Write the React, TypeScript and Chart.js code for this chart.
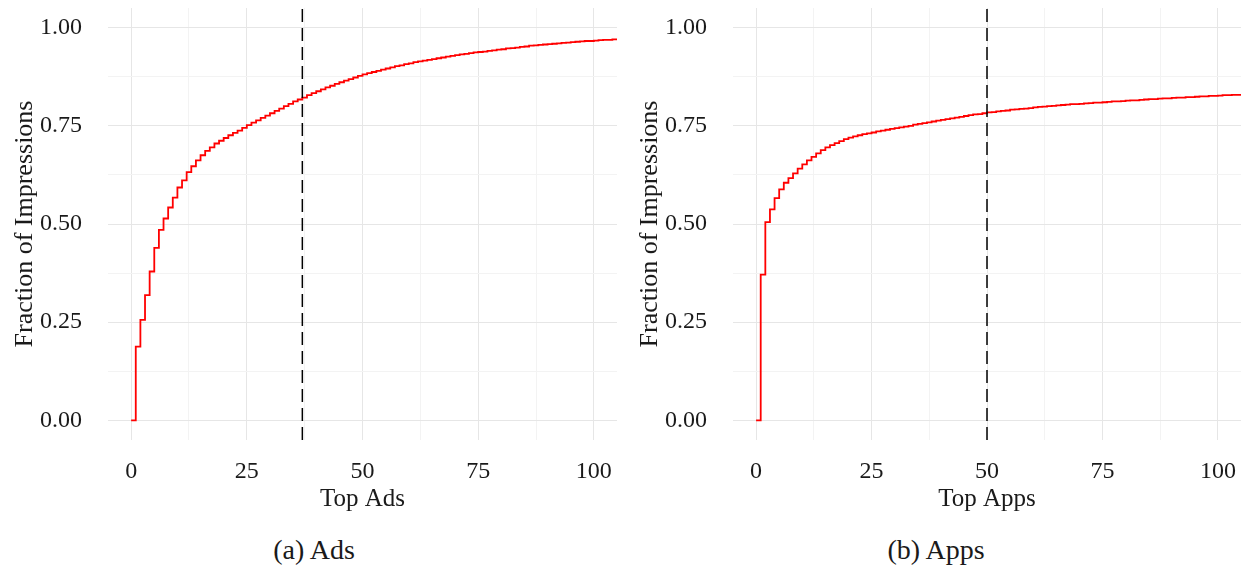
import React, { useEffect, useRef } from "react";
import { Chart, registerables } from "chart.js";

Chart.register(...registerables);

// Cumulative share of impressions held by the top-N ads (N = 0, 1, 2, ...)
const ADS_SHARE: number[] = [
  0, 0.188, 0.256, 0.319, 0.379, 0.439, 0.485, 0.514, 0.542, 0.567,
  0.593, 0.611, 0.632, 0.647, 0.662, 0.675, 0.686, 0.695, 0.705, 0.712,
  0.719, 0.726, 0.732, 0.738, 0.745, 0.752, 0.758, 0.764, 0.770, 0.776,
  0.782, 0.788, 0.794, 0.800, 0.806, 0.812, 0.817, 0.822, 0.828, 0.833,
  0.838, 0.843, 0.848, 0.852, 0.857, 0.861, 0.865, 0.869, 0.873, 0.877,
  0.881, 0.884, 0.887, 0.890, 0.893, 0.896, 0.899, 0.902, 0.904, 0.907,
  0.909, 0.912, 0.914, 0.916, 0.918, 0.920, 0.922, 0.924, 0.926, 0.928,
  0.930, 0.932, 0.933, 0.935, 0.937, 0.938, 0.939, 0.941, 0.942, 0.944,
  0.945, 0.947, 0.948, 0.949, 0.951, 0.952, 0.954, 0.955, 0.956, 0.957,
  0.958, 0.959, 0.960, 0.961, 0.962, 0.963, 0.964, 0.965, 0.966, 0.966,
  0.967, 0.968, 0.969, 0.969, 0.970, 0.971, 0.971,
];

// Cumulative share of impressions held by the top-N apps
const APPS_SHARE: number[] = [
  0, 0.371, 0.505, 0.537, 0.566, 0.588, 0.605, 0.617, 0.629, 0.641,
  0.652, 0.662, 0.671, 0.680, 0.688, 0.695, 0.701, 0.706, 0.711, 0.716,
  0.720, 0.723, 0.726, 0.729, 0.731, 0.733, 0.736, 0.738, 0.740, 0.742,
  0.744, 0.746, 0.748, 0.750, 0.753, 0.755, 0.757, 0.759, 0.761, 0.763,
  0.765, 0.767, 0.769, 0.771, 0.773, 0.775, 0.777, 0.779, 0.780, 0.782,
  0.784, 0.785, 0.787, 0.788, 0.789, 0.791, 0.792, 0.793, 0.794, 0.795,
  0.797, 0.798, 0.799, 0.800, 0.801, 0.802, 0.803, 0.804, 0.805, 0.805,
  0.806, 0.807, 0.808, 0.809, 0.809, 0.810, 0.811, 0.812, 0.812, 0.813,
  0.814, 0.815, 0.815, 0.816, 0.817, 0.818, 0.818, 0.819, 0.820, 0.820,
  0.821, 0.822, 0.822, 0.823, 0.823, 0.824, 0.825, 0.825, 0.826, 0.826,
  0.827, 0.828, 0.828, 0.829, 0.829, 0.830, 0.830,
];

// Rank cut-off marked by the dashed reference line in each panel
const ADS_CUTOFF = 37;
const APPS_CUTOFF = 50;

const X_LABELS = ["0", "25", "50", "75", "100"];
const Y_LABELS = ["0.00", "0.25", "0.50", "0.75", "1.00"];

const FONT = "'Liberation Serif', 'DejaVu Serif', serif";
const TEXT = "#1a1a1a";

// Drop the extra room Chart.js reserves for edge tick labels so the plot
// area is set only by the axis sizes and layout padding.
function noEdgePadding(s: any) {
  s.paddingTop = 0;
  s.paddingBottom = 0;
  s.paddingLeft = 0;
  s.paddingRight = 0;
}

type PanelProps = {
  share: number[];
  cutoff: number;
  xTitle: string;
  caption: string;
  left: number;
  captionX: number;
  padRight: number;
};

function Panel({ share, cutoff, xTitle, caption, left, captionX, padRight }: PanelProps) {
  const ref = useRef<HTMLCanvasElement | null>(null);

  useEffect(() => {
    if (!ref.current) return;
    const points = share.map((y, rank) => ({ x: rank, y }));
    const gridColor = (major: number) => (ctx: any) => {
      const v = ctx.tick ? ctx.tick.value : 0;
      return Math.abs(v / major - Math.round(v / major)) < 1e-6 ? "#e6e6e6" : "#f3f3f3";
    };
    const chart = new Chart(ref.current, {
      type: "line",
      data: {
        datasets: [
          {
            data: [
              { x: cutoff, y: -0.05 },
              { x: cutoff, y: 1.05 },
            ],
            borderColor: "#000000",
            borderWidth: 1.5,
            borderDash: [13, 6],
            pointRadius: 0,
          },
          {
            data: points,
            borderColor: "#ff0000",
            borderWidth: 1.8,
            stepped: true,
            pointRadius: 0,
          },
        ],
      },
      options: {
        responsive: false,
        animation: false,
        devicePixelRatio: 1,
        layout: { padding: { left: 0, right: padRight, top: 8, bottom: 0 } },
        plugins: { legend: { display: false }, tooltip: { enabled: false } },
        scales: {
          x: {
            type: "linear",
            min: -5,
            max: 105,
            border: { display: false },
            grid: { color: gridColor(25), lineWidth: 1, drawTicks: false },
            ticks: {
              stepSize: 12.5,
              includeBounds: false,
              autoSkip: false,
              maxRotation: 0,
              padding: 20,
              color: TEXT,
              font: { family: FONT, size: 24, lineHeight: 1 },
              callback: (v: any) => {
                const n = Number(v);
                return n % 25 === 0 ? X_LABELS[n / 25] : "";
              },
            },
            title: {
              display: true,
              text: xTitle,
              color: TEXT,
              font: { family: FONT, size: 25, lineHeight: 1 },
              padding: { top: 0, bottom: 8 },
            },
            afterFit: (s: any) => {
              s.height = 80;
              noEdgePadding(s);
            },
          },
          y: {
            type: "linear",
            min: -0.05,
            max: 1.05,
            border: { display: false },
            grid: { color: gridColor(0.25), lineWidth: 1, drawTicks: false },
            ticks: {
              stepSize: 0.125,
              includeBounds: false,
              autoSkip: false,
              padding: 26,
              color: TEXT,
              font: { family: FONT, size: 24, lineHeight: 1 },
              callback: (v: any) => {
                const n = Number(v);
                const k = Math.round(n / 0.25);
                return Math.abs(n - k * 0.25) < 1e-6 ? Y_LABELS[k] : "";
              },
            },
            title: {
              display: true,
              text: "Fraction of Impressions",
              color: TEXT,
              font: { family: FONT, size: 26, lineHeight: 1 },
              padding: { top: 12, bottom: 0 },
            },
            afterFit: (s: any) => {
              s.width = 108;
              noEdgePadding(s);
            },
          },
        },
      },
    });
    return () => chart.destroy();
  }, [share, cutoff, xTitle, padRight]);

  return (
    <>
      <div style={{ position: "absolute", left, top: 0, width: 624, height: 520 }}>
        <canvas ref={ref} width={624} height={520} style={{ display: "block" }} />
      </div>
      <div
        style={{
          position: "absolute",
          left: captionX - 100,
          width: 200,
          top: 534,
          textAlign: "center",
          fontFamily: FONT,
          fontSize: 28,
          lineHeight: "32px",
          color: TEXT,
        }}
      >
        {caption}
      </div>
    </>
  );
}

export default function App() {
  return (
    <div
      style={{
        position: "absolute",
        left: 0,
        top: 0,
        width: 1248,
        height: 569,
        background: "#ffffff",
        overflow: "hidden",
      }}
    >
      <Panel
        share={ADS_SHARE}
        cutoff={ADS_CUTOFF}
        xTitle="Top Ads"
        caption="(a) Ads"
        left={0}
        captionX={314}
        padRight={7}
      />
      <Panel
        share={APPS_SHARE}
        cutoff={APPS_CUTOFF}
        xTitle="Top Apps"
        caption="(b) Apps"
        left={625}
        captionX={936}
        padRight={8}
      />
    </div>
  );
}
